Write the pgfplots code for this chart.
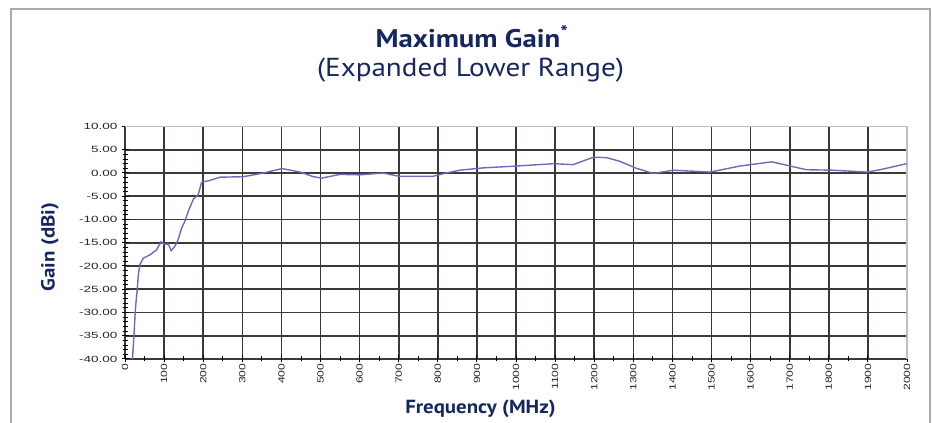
\documentclass[border=0pt]{standalone}
\usepackage{pgfplots}
\pgfplotsset{compat=1.18}
\usepackage{fontspec}
\setmainfont{Liberation Sans}
\newfontfamily\titlefont{PT Sans}
\definecolor{navy}{RGB}{22,38,95}
\definecolor{curve}{RGB}{112,104,184}
\definecolor{gridc}{RGB}{62,56,56}
\newcommand\sx[1]{\scalebox{1.5}[1]{#1}}
\newcommand\sxx[1]{\scalebox{1.35}[1]{#1}}
\begin{document}
\begin{tikzpicture}[x=1pt,y=1pt]
\useasboundingbox (0,0) rectangle (932,423);
\draw[black!33, line width=2pt] (11,0) -- (11,414) -- (930,414) -- (930,0);
\node[font=\titlefont\bfseries\fontsize{25.5}{30}\selectfont, text=navy, anchor=base] at (472,375.3) {\scalebox{1.13}[1]{Maximum Gain\textsuperscript{*}}};
\node[font=\titlefont\fontsize{26}{30}\selectfont, text=navy, anchor=base] at (470.5,346) {\scalebox{1.12}[1]{(Expanded Lower Range)}};
\node[font=\titlefont\bfseries\fontsize{19}{22}\selectfont, text=navy, rotate=90] at (50,176) {\scalebox{1.1}[1]{Gain (dBi)}};
\node[font=\titlefont\bfseries\fontsize{19}{22}\selectfont, text=navy, anchor=base] at (480.5,9) {\scalebox{1.1}[1]{Frequency (MHz)}};
\begin{axis}[
  at={(125pt,64pt)}, anchor=south west, scale only axis,
  width=782pt, height=232.5pt,
  xmin=0, xmax=2000, ymin=-40, ymax=10,
  xtick={0,100,...,1900},
  xticklabels={\sxx{0},\sxx{100},\sxx{200},\sxx{300},\sxx{400},\sxx{500},\sxx{600},\sxx{700},\sxx{800},\sxx{900},\sxx{1000},\sxx{1100},\sxx{1200},\sxx{1300},\sxx{1400},\sxx{1500},\sxx{1600},\sxx{1700},\sxx{1800},\sxx{1900}},
  extra x ticks={2000}, extra x tick labels={\sxx{2000}},
  extra x tick style={grid=none},
  ytick={-40,-35,...,5},
  yticklabels={\sx{-40.00},\sx{-35.00},\sx{-30.00},\sx{-25.00},\sx{-20.00},\sx{-15.00},\sx{-10.00},\sx{-5.00},\sx{0.00},\sx{5.00}},
  extra y ticks={10}, extra y tick labels={\sx{10.00}},
  extra y tick style={grid=none},
  minor x tick num=1, minor y tick num=4,
  grid=major,
  major grid style={gridc, line width=1.6pt},
  axis line style={draw=none},
  tick pos=left, tick align=center,
  major tick length=7pt, minor tick length=5pt,
  tick style={black, line width=1pt},
  minor tick style={black, line width=0.8pt},
  xticklabel style={rotate=90, anchor=east, font=\fontsize{9}{10}\selectfont, text=black!85, inner sep=1pt},
  yticklabel style={anchor=east, font=\fontsize{9}{10}\selectfont, text=black!85, inner sep=1pt, xshift=-3pt},
  clip=false,
]
\draw[black!25, line width=1.5pt] (axis cs:0,10) -- (axis cs:2000,10) -- (axis cs:2000,-40);
\addplot[curve, line width=1.4pt, no marks] coordinates {
(19,-40) (23,-35) (26,-30) (29,-27) (31,-25.4) (34,-22) (38,-19.7) (47,-18.3) (64,-17.6)
(81,-16.5) (92,-14.8) (100,-15.3) (111,-15.3) (118,-16.7) (128,-15.7) (136,-14.3)
(145,-11.8) (153,-10.4) (162,-8.2) (175,-5.6) (187,-4.7) (196,-2.0) (217,-1.6)
(243,-0.9) (303,-0.8) (354,0) (402,0.95) (448,0.2) (482,-0.8) (503,-1.1) (550,-0.3)
(600,-0.4) (660,0) (700,-0.7) (788,-0.7) (822,0.0) (856,0.6) (916,1.1) (1002,1.5)
(1095,2.0) (1146,1.8) (1172,2.6) (1198,3.4) (1232,3.3) (1266,2.5) (1308,1.0)
(1351,-0.1) (1402,0.6) (1496,0.2) (1573,1.5) (1654,2.4) (1743,0.7) (1811,0.6)
(1897,0.2) (1931,0.7) (1999,2.0)
};
\end{axis}
\end{tikzpicture}
\end{document}
